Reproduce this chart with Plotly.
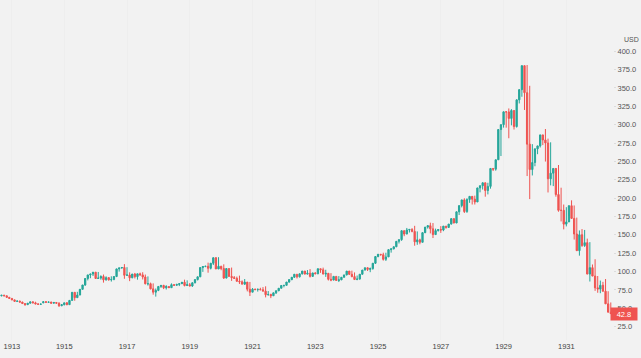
import pandas as pd
import plotly.graph_objects as go

# Monthly bars Sep 1912 - Jun 1932 (exchange closed Aug-Nov 1914: no bars)
months = [p.strftime("%Y-%m") for p in pd.period_range("1912-09", "1932-06", freq="M")
          if not ("1914-08" <= p.strftime("%Y-%m") <= "1914-11")]

open_ = [
    67.0, 67.8, 67.0, 65.0,
    63.5, 61.5, 59.5, 59.8, 58.5, 56.5, 55.0, 57.0, 58.8, 57.5, 56.0, 55.5,
    57.5, 59.0, 58.2, 58.5, 57.0, 58.0, 57.0, 53.5,
    55.0, 57.5, 55.0, 60.8, 71.8, 64.5, 68.1, 75.9, 81.8, 90.6, 95.5, 96.7,
    99.2, 90.6, 91.2, 93.3, 88.8, 91.8, 88.8, 89.3, 93.3, 103.7, 105.0, 105.6,
    95.0, 95.4, 91.6, 96.7, 93.1, 97.0, 95.5, 92.7, 83.4, 83.5, 76.5, 72.0,
    74.4, 79.8, 81.2, 78.0, 79.7, 78.1, 82.2, 81.4, 82.5, 83.6, 85.5, 81.0,
    82.2, 80.4, 84.8, 89.1, 92.9, 105.5, 106.9, 107.2, 104.5, 111.4, 118.9, 103.6,
    107.2, 104.2, 91.2, 104.2, 93.5, 91.8, 90.8, 86.9, 86.2, 82.9, 85.7, 76.0,
    72.0, 76.1, 75.5, 75.8, 75.3, 73.4, 68.5, 68.8, 67.1, 71.1, 73.9, 77.3,
    81.1, 81.3, 85.8, 89.1, 92.3, 96.4, 92.9, 97.0, 100.8, 96.6, 97.8, 93.5,
    98.2, 97.0, 103.9, 102.4, 96.6, 97.7, 89.5, 88.5, 93.5, 87.9, 88.8, 92.3,
    95.5, 100.7, 96.3, 93.2, 89.2, 89.9, 96.4, 102.1, 105.2, 103.0, 104.1, 111.4,
    120.5, 123.6, 122.9, 116.7, 120.0, 129.9, 131.0, 133.8, 141.2, 143.5, 155.7, 151.1,
    156.7, 157.4, 154.7, 140.5, 143.2, 139.9, 153.0, 160.6, 162.5, 158.2, 150.4, 155.8,
    157.2, 156.6, 161.9, 160.1, 164.7, 172.1, 166.2, 181.4, 189.8, 197.6, 181.7, 198.2,
    202.4, 198.6, 194.8, 213.9, 216.9, 220.9, 210.4, 216.0, 240.4, 239.4, 252.2, 293.4,
    300.0, 317.5, 317.4, 308.5, 319.3, 297.4, 333.8, 347.7, 380.3, 343.5, 273.5, 238.9,
    248.5, 267.1, 271.1, 286.1, 279.2, 275.1, 226.3, 234.0, 240.4, 204.9, 183.4, 183.4,
    164.6, 167.6, 189.7, 172.4, 151.2, 128.5, 150.2, 135.4, 139.4, 96.6, 105.4, 93.9,
    77.9, 76.2, 81.4, 73.3, 56.1, 44.7,
]
high = [
    68.3, 68.5, 67.5, 65.5,
    64.0, 62.0, 60.8, 60.5, 59.0, 57.0, 56.0, 57.8, 59.5, 59.0, 56.8, 56.2,
    58.2, 59.8, 59.2, 59.0, 58.5, 58.6, 58.2, 54.2,
    55.6, 58.5, 58.0, 61.5, 72.0, 72.5, 71.0, 76.5, 82.0, 91.0, 96.5, 97.5,
    99.5, 99.5, 95.0, 96.0, 93.6, 92.6, 93.6, 90.4, 93.8, 104.0, 105.5, 110.2,
    106.0, 99.0, 95.5, 98.2, 97.0, 98.6, 99.1, 96.0, 93.5, 85.0, 84.0, 77.0,
    75.0, 80.0, 82.0, 81.5, 80.0, 84.0, 83.0, 83.5, 83.0, 84.0, 89.0, 88.1,
    84.5, 82.5, 85.0, 89.5, 93.5, 106.0, 108.0, 112.2, 108.0, 111.5, 119.6, 119.6,
    107.9, 109.9, 104.5, 104.2, 105.5, 94.0, 93.2, 94.5, 88.0, 89.9, 85.9, 85.9,
    77.6, 76.8, 77.1, 78.0, 78.9, 80.0, 73.5, 69.9, 69.9, 71.9, 73.9, 77.8,
    81.5, 82.9, 86.0, 89.1, 93.5, 96.4, 96.5, 97.0, 100.8, 102.1, 103.4, 98.0,
    99.2, 99.4, 103.9, 105.4, 102.5, 98.0, 97.9, 91.5, 93.7, 93.9, 89.0, 92.5,
    95.6, 100.7, 101.3, 98.9, 94.7, 91.4, 96.5, 102.1, 105.6, 105.5, 104.5, 111.4,
    120.5, 123.6, 125.7, 125.7, 120.2, 130.0, 131.0, 134.8, 143.2, 147.0, 155.7, 159.4,
    157.0, 159.1, 162.3, 154.7, 144.8, 144.0, 153.0, 160.6, 166.6, 166.1, 158.5, 156.9,
    161.9, 157.6, 161.9, 162.0, 167.4, 172.4, 172.4, 182.0, 190.6, 199.8, 199.8, 198.2,
    202.4, 203.4, 199.4, 214.5, 216.9, 220.9, 220.9, 217.4, 240.4, 241.7, 257.6, 299.4,
    300.0, 317.5, 322.1, 321.2, 319.3, 327.1, 333.8, 347.7, 380.3, 381.2, 352.9, 273.5,
    263.5, 267.1, 272.3, 286.1, 294.1, 281.0, 276.0, 240.8, 241.0, 245.1, 214.2, 191.3,
    187.7, 175.9, 197.0, 190.0, 173.5, 156.0, 157.9, 156.7, 144.9, 140.1, 109.7, 116.8,
    94.0, 87.8, 86.0, 89.9, 73.3, 58.0, 51.0,
]
high = high[:len(open_)]
low = [
    66.4, 66.6, 64.6, 63.2,
    61.0, 59.0, 58.6, 58.0, 56.0, 53.5, 54.5, 56.6, 57.0, 55.6, 54.8, 55.0,
    57.0, 57.6, 57.6, 56.6, 56.6, 56.5, 52.0, 53.0,
    54.0, 54.2, 54.8, 60.5, 60.4, 64.3, 67.9, 75.5, 80.5, 88.0, 91.0, 94.0,
    90.0, 90.0, 89.0, 85.0, 87.7, 87.7, 86.4, 88.2, 92.5, 100.0, 104.0, 90.2,
    94.0, 87.0, 91.0, 90.7, 89.0, 94.5, 89.3, 82.7, 81.0, 75.8, 68.6, 65.95,
    73.4, 77.8, 76.2, 75.6, 78.0, 77.9, 80.5, 80.7, 80.3, 83.0, 79.9, 80.4,
    79.9, 79.2, 84.0, 88.0, 92.5, 99.6, 106.0, 98.5, 103.0, 108.9, 103.6, 103.5,
    101.9, 89.98, 91.0, 93.2, 87.4, 90.2, 86.2, 83.2, 82.9, 82.1, 73.1, 66.75,
    72.0, 74.7, 72.8, 74.8, 73.4, 64.9, 67.3, 63.9, 66.8, 69.5, 73.4, 77.3,
    78.6, 81.0, 84.8, 88.3, 91.5, 90.7, 92.0, 96.0, 96.3, 96.1, 92.0, 92.9,
    96.96, 96.5, 98.3, 96.5, 92.8, 87.9, 86.9, 88.2, 87.9, 85.8, 88.4, 92.0,
    94.9, 95.6, 92.3, 89.2, 88.3, 89.0, 96.3, 101.6, 100.8, 99.2, 102.6, 110.4,
    119.5, 121.9, 115.0, 114.5, 120.0, 125.8, 130.2, 133.3, 138.3, 141.9, 148.2, 151.0,
    153.2, 153.5, 135.2, 136.5, 137.2, 139.9, 152.4, 158.5, 152.0, 145.7, 150.0, 154.6,
    152.7, 155.0, 158.4, 159.8, 164.1, 165.7, 166.0, 177.0, 187.4, 179.8, 180.0, 193.6,
    191.3, 191.3, 194.8, 207.9, 211.7, 201.96, 205.1, 212.9, 236.9, 237.4, 252.2, 257.3,
    296.0, 295.9, 281.5, 299.1, 293.4, 296.1, 328.9, 338.0, 320.0, 230.07, 198.7, 230.9,
    243.4, 259.8, 268.9, 272.2, 249.8, 207.7, 217.4, 216.4, 201.95, 181.5, 168.3, 157.5,
    161.5, 167.6, 172.4, 143.6, 128.3, 121.7, 133.8, 133.6, 96.6, 86.5, 93.9, 73.8,
    71.2, 70.6, 72.8, 55.9, 44.7, 42.7,
]
close = [
    67.8, 67.0, 65.0, 63.5,
    61.5, 59.5, 59.8, 58.5, 56.5, 55.0, 57.0, 58.8, 57.5, 56.0, 55.5, 55.8,
    59.0, 58.2, 58.5, 57.0, 58.0, 57.0, 53.5, 55.0,
    57.5, 55.0, 60.8, 71.8, 64.5, 68.1, 75.9, 81.8, 90.6, 95.5, 96.7, 99.2,
    90.6, 91.2, 93.3, 88.8, 91.8, 88.8, 89.3, 93.3, 103.7, 105.0, 105.6, 95.0,
    95.4, 91.6, 96.7, 93.1, 97.0, 95.5, 92.7, 83.4, 83.5, 76.5, 72.0, 74.4,
    79.8, 81.2, 78.0, 79.7, 78.1, 82.2, 81.4, 82.5, 83.6, 85.5, 81.0, 82.2,
    80.4, 84.8, 89.1, 92.9, 105.5, 106.9, 107.2, 104.5, 111.4, 118.9, 103.6, 107.2,
    104.2, 91.2, 104.2, 93.5, 91.8, 90.8, 86.9, 86.2, 82.9, 85.7, 76.0, 72.0,
    76.1, 75.5, 75.8, 75.3, 73.4, 68.5, 68.8, 67.1, 71.1, 73.9, 77.3, 81.1,
    81.3, 85.8, 89.1, 92.3, 96.4, 92.9, 97.0, 100.8, 96.6, 97.8, 93.5, 98.2,
    97.0, 103.9, 102.4, 96.6, 97.7, 89.5, 88.5, 93.5, 87.9, 88.8, 92.3, 95.5,
    100.7, 96.3, 93.2, 89.2, 89.9, 96.4, 102.1, 105.2, 103.0, 104.1, 111.4, 120.5,
    123.6, 122.9, 116.7, 120.0, 129.9, 131.0, 133.8, 141.2, 143.5, 155.7, 151.1, 156.7,
    157.4, 154.7, 140.5, 143.2, 139.9, 153.0, 160.6, 162.5, 158.2, 150.4, 155.8, 157.2,
    156.6, 161.9, 160.1, 164.7, 172.1, 166.2, 181.4, 189.8, 197.6, 181.7, 198.2, 202.4,
    198.6, 194.8, 213.9, 216.9, 220.9, 210.4, 216.0, 240.4, 239.4, 252.2, 293.4, 300.0,
    317.5, 317.4, 308.5, 319.3, 297.4, 333.8, 347.7, 380.3, 343.5, 273.5, 238.9, 248.5,
    267.1, 271.1, 286.1, 279.2, 275.1, 226.3, 234.0, 240.4, 204.9, 183.4, 183.4, 164.6,
    167.6, 189.7, 172.4, 151.2, 128.5, 150.2, 135.4, 139.4, 96.6, 105.4, 93.9, 77.9,
    76.2, 81.4, 73.3, 56.1, 44.7, 42.8,
]

year_ticks = ["1913", "1915", "1917", "1919", "1921", "1923", "1925", "1927", "1929", "1931"]
price_ticks = [25, 50, 75, 100, 125, 150, 175, 200, 225, 250, 275, 300, 325, 350, 375, 400]
last_price = close[-1]

UP = "#26a69a"
DOWN = "#ef5350"
BG = "#f2f2f2"

fig = go.Figure(go.Candlestick(
    x=months, open=open_, high=high, low=low, close=close,
    increasing=dict(line=dict(color=UP, width=1), fillcolor=UP),
    decreasing=dict(line=dict(color=DOWN, width=1), fillcolor=DOWN),
    whiskerwidth=0, showlegend=False, hoverinfo="skip",
))

plot_w = 613
px_per_bar = 2.615
x0 = -0.57

fig.update_layout(
    width=641, height=358,
    margin=dict(l=0, r=641 - plot_w, t=0, b=18, autoexpand=False),
    paper_bgcolor=BG, plot_bgcolor=BG,
    font=dict(family="Liberation Sans, Arial, sans-serif", size=7.5, color="#4d4d4d"),
    xaxis=dict(
        type="category", range=[x0, x0 + plot_w / px_per_bar],
        tickvals=[y + "-01" for y in year_ticks], ticktext=year_ticks,
        showgrid=True, gridcolor="#eeeeee", gridwidth=1,
        ticks="", showline=False, zeroline=False, automargin=False,
        rangeslider=dict(visible=False), fixedrange=True,
        tickfont=dict(size=7.5, color="#444444"),
    ),
    yaxis=dict(
        side="right", range=[6.9, 469.7], automargin=False,
        tickvals=price_ticks, ticktext=[f"{v:.1f}" for v in price_ticks],
        showgrid=False, zeroline=False, showline=False,
        ticks="outside", ticklen=2, tickcolor="#dcdcdc",
        tickfont=dict(size=7.5, color="#555555"),
    ),
    annotations=[
        dict(xref="paper", yref="paper", x=1, y=1 - 39 / 340, xanchor="left", yanchor="middle",
             xshift=9, text="USD", showarrow=False, font=dict(size=7, color="#555555")),
        dict(xref="paper", yref="y", x=1, y=last_price, xanchor="left", yanchor="middle",
             xshift=-3, text=f"{last_price:.1f}", showarrow=False, bgcolor=DOWN,
             width=24, height=10, font=dict(size=7.5, color="white")),
    ],
)

fig.write_html("out.html", config={"displayModeBar": False},
               post_script="document.body.style.margin='0';")
